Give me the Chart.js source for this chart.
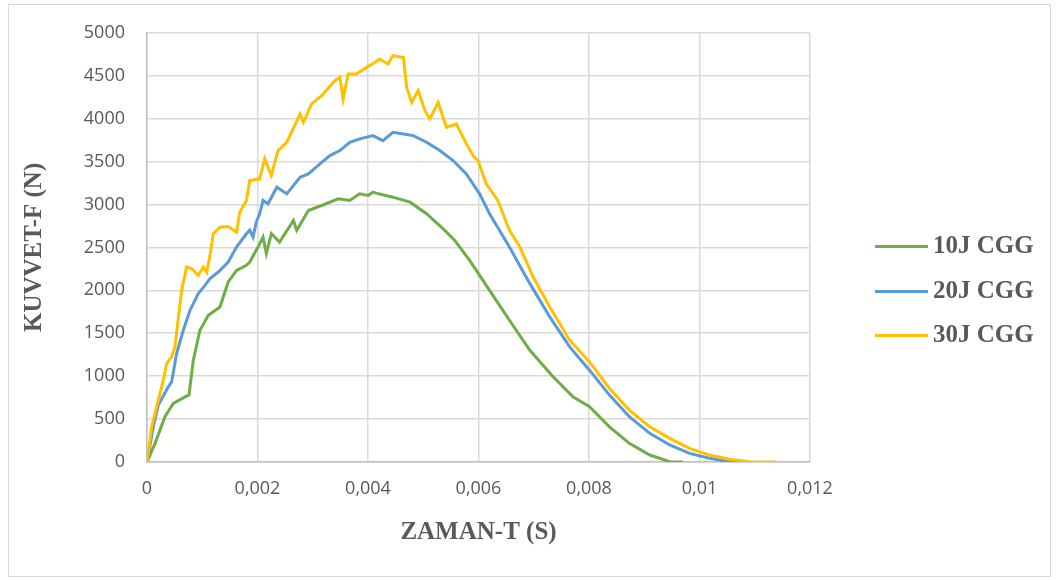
<!DOCTYPE html>
<html>
<head>
<meta charset="utf-8">
<script src="https://cdn.jsdelivr.net/npm/chart.js@4.4.1/dist/chart.umd.min.js"></script>
<style>
	body { margin: 0; background: #fff; }
	#frame { position: absolute; left: 8px; top: 4px; width: 1041px; height: 571px; border: 1px solid #d9d9d9; }
	#wrap { position: absolute; left: 0; top: 0; width: 1059px; height: 580px; }
	.leg-line { position: absolute; left: 875px; width: 53px; height: 3px; }
	.leg-text { position: absolute; left: 933px; height: 30px; line-height: 30px; font: bold 25px "Liberation Serif", serif; color: #595959; white-space: nowrap; }
</style>
</head>
<body>
<div id="frame"></div>
<div id="wrap"><canvas id="forceChart" width="1059" height="580"></canvas></div>
<div id="legend"></div>
<script>
// Series data
const time10 = [0, 0.000145, 0.000325, 0.000476, 0.000687, 0.00076, 0.000838, 0.000958, 0.00111, 0.00132, 0.00147, 0.00162, 0.0018, 0.00186, 0.00201, 0.0021, 0.00216, 0.00225, 0.0024, 0.00265, 0.00271, 0.00292, 0.00316, 0.00346, 0.00367, 0.00385, 0.004, 0.00409, 0.00415, 0.00445, 0.00476, 0.00506, 0.00536, 0.00557, 0.00584, 0.0062, 0.00656, 0.00693, 0.00735, 0.00771, 0.00801, 0.00837, 0.00873, 0.0091, 0.00946, 0.0097];
const force10 = [0, 217, 527, 682, 759, 780, 1186, 1535, 1709, 1806, 2097, 2233, 2291, 2329, 2504, 2620, 2430, 2659, 2562, 2814, 2698, 2930, 2988, 3066, 3047, 3124, 3105, 3143, 3132, 3085, 3027, 2892, 2717, 2581, 2349, 2000, 1651, 1302, 992, 759, 643, 410, 217, 81, 4, 0];

const time20 = [0, 0.000115, 0.000205, 0.000386, 0.000446, 0.000536, 0.000657, 0.000778, 0.000928, 0.00105, 0.00114, 0.00129, 0.00147, 0.00162, 0.0018, 0.00186, 0.00192, 0.00198, 0.00204, 0.0021, 0.00219, 0.00235, 0.00253, 0.00277, 0.00292, 0.00313, 0.00331, 0.00349, 0.00367, 0.00385, 0.00409, 0.00427, 0.00445, 0.00464, 0.00482, 0.00506, 0.0053, 0.00554, 0.00578, 0.00602, 0.0062, 0.00656, 0.00693, 0.00729, 0.00765, 0.00801, 0.00837, 0.00873, 0.0091, 0.00946, 0.00982, 0.01018, 0.01054, 0.01078];
const force20 = [0, 411, 663, 876, 934, 1264, 1535, 1767, 1962, 2058, 2136, 2213, 2329, 2504, 2659, 2700, 2620, 2800, 2892, 3047, 3008, 3201, 3124, 3317, 3357, 3473, 3570, 3628, 3725, 3764, 3802, 3744, 3841, 3822, 3802, 3725, 3628, 3512, 3357, 3124, 2892, 2504, 2078, 1690, 1341, 1070, 779, 527, 334, 198, 101, 43, 4, 0];

const time30 = [0, 0.000085, 0.000175, 0.000295, 0.000356, 0.000446, 0.000506, 0.000627, 0.000717, 0.000808, 0.000928, 0.00102, 0.00108, 0.00114, 0.0012, 0.00132, 0.00147, 0.00162, 0.00168, 0.0018, 0.00186, 0.00204, 0.00213, 0.00225, 0.00237, 0.00253, 0.00277, 0.00283, 0.00298, 0.00316, 0.0034, 0.00349, 0.00355, 0.00364, 0.00379, 0.00397, 0.00412, 0.00421, 0.00436, 0.00445, 0.00464, 0.0047, 0.00479, 0.00491, 0.00503, 0.00512, 0.00527, 0.00542, 0.0056, 0.00578, 0.0059, 0.00599, 0.00614, 0.00635, 0.00656, 0.00675, 0.00699, 0.00729, 0.00765, 0.00801, 0.00837, 0.00873, 0.0091, 0.00946, 0.00982, 0.01018, 0.01054, 0.0109, 0.01139];
const force30 = [0, 411, 643, 953, 1148, 1225, 1341, 2000, 2271, 2252, 2174, 2271, 2213, 2407, 2659, 2736, 2744, 2678, 2911, 3047, 3279, 3299, 3531, 3337, 3628, 3725, 4054, 3957, 4171, 4268, 4442, 4481, 4229, 4520, 4520, 4597, 4655, 4694, 4636, 4733, 4713, 4364, 4190, 4326, 4093, 3996, 4190, 3899, 3938, 3706, 3570, 3512, 3241, 3047, 2698, 2504, 2155, 1806, 1419, 1166, 857, 605, 411, 275, 159, 81, 31, 4, 0];

const seriesNames = ["10J CGG", "20J CGG", "30J CGG"];
const seriesColors = ["#70AD47", "#5B9BD5", "#FFC000"];

const xTickValues = [0, 0.002, 0.004, 0.006, 0.008, 0.01, 0.012];
const xTickLabels = ["0", "0,002", "0,004", "0,006", "0,008", "0,01", "0,012"];
const yTickValues = [0, 500, 1000, 1500, 2000, 2500, 3000, 3500, 4000, 4500, 5000];

/**
 * Zip time and force arrays into {x, y} points
 */
function toPoints(times, forces) {
	return times.map((t, i) => ({ x: t, y: forces[i] }));
}

const allSeries = [
	toPoints(time10, force10),
	toPoints(time20, force20),
	toPoints(time30, force30),
];

// Later series sit on top, as in the original
const datasets = allSeries.map((pts, i) => ({
	label: seriesNames[i],
	data: pts,
	borderColor: seriesColors[i],
	backgroundColor: seriesColors[i],
	borderWidth: 3,
	pointRadius: 0,
	showLine: true,
	tension: 0,
	order: allSeries.length - i,
}));

const tickFont = { family: "'Open Sans', 'Liberation Sans', sans-serif", size: 18 };
const titleFont = { family: "'Liberation Serif', serif", size: 25, weight: "bold" };

new Chart(document.getElementById("forceChart"), {
	type: "scatter",
	data: { datasets: datasets },
	options: {
		responsive: false,
		animation: false,
		devicePixelRatio: 1,
		layout: { padding: { left: 0, right: 249, top: 32, bottom: 0 } },
		plugins: { legend: { display: false }, tooltip: { enabled: false } },
		scales: {
			x: {
				type: "linear",
				min: 0,
				max: 0.012,
				afterBuildTicks: (scale) => { scale.ticks = xTickValues.map((v) => ({ value: v })); },
				afterFit: (scale) => { scale.height = 118; },
				ticks: {
					callback: (v, i) => xTickLabels[i],
					font: tickFont,
					color: "#595959",
					padding: 16,
					maxRotation: 0,
				},
				grid: { color: "#d9d9d9", lineWidth: 1.5, drawTicks: false },
				border: { color: "#bfbfbf", width: 1.5 },
				title: { display: true, text: "ZAMAN-T (S)", font: titleFont, color: "#595959", padding: { top: 0, bottom: 32 } },
			},
			y: {
				type: "linear",
				min: 0,
				max: 5000,
				afterBuildTicks: (scale) => { scale.ticks = yTickValues.map((v) => ({ value: v })); },
				afterFit: (scale) => { scale.width = 147; },
				ticks: {
					callback: (v) => String(v),
					font: tickFont,
					color: "#595959",
					padding: 22,
				},
				grid: { color: "#d9d9d9", lineWidth: 1.5, drawTicks: false },
				border: { color: "#bfbfbf", width: 1.5 },
				title: { display: true, text: "KUVVET-F (N)", font: titleFont, color: "#595959", padding: { top: 20, bottom: 0 } },
			},
		},
	},
});

// Legend on the right, built from the same names and colours
const legend = document.getElementById("legend");
const legendRows = [246, 291, 335];
seriesNames.forEach((name, i) => {
	const line = document.createElement("div");
	line.className = "leg-line";
	line.style.top = (legendRows[i] - 1.5) + "px";
	line.style.background = seriesColors[i];
	legend.appendChild(line);
	const text = document.createElement("div");
	text.className = "leg-text";
	text.style.top = (legendRows[i] - 15) + "px";
	text.textContent = name;
	legend.appendChild(text);
});
</script>
</body>
</html>
